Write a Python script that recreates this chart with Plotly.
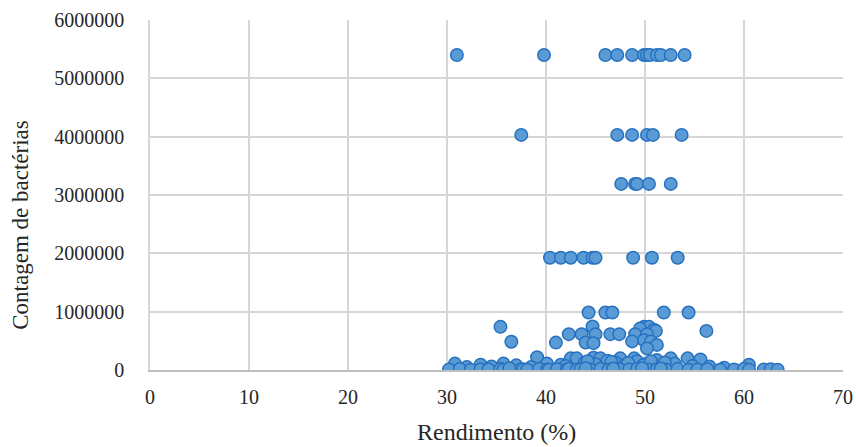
import plotly.graph_objects as go

# Data
# Rendimento (%) -> x ; Contagem de bactérias -> y
rend_top = [31.0, 39.8, 46.0, 47.2, 48.7, 49.9, 50.2, 50.5, 51.2, 51.6, 52.6, 54.0]
cont_top = [5400000] * 12

rend_4m = [37.5, 47.2, 48.7, 50.2, 50.8, 53.7]
cont_4m = [4030000] * 6

rend_3m = [47.6, 49.0, 49.2, 50.4, 52.6]
cont_3m = [3190000] * 5

rend_2m = [40.4, 41.5, 42.5, 43.8, 44.7, 45.0, 48.8, 50.7, 53.3]
cont_2m = [1925000] * 9

rend_mid = [44.3, 46.0, 46.7, 51.9, 54.4,
            35.4, 44.7, 49.9, 50.4, 56.2, 49.5, 50.9, 51.1,
            42.3, 43.6, 45.0, 46.5, 47.4, 49.0, 50.2,
            36.5, 41.0, 44.0, 44.8, 48.7, 49.9, 50.6, 51.2, 50.2]
cont_mid = [985000, 985000, 985000, 985000, 985000,
            740000, 745000, 740000, 740000, 670000, 710000, 690000, 670000,
            615000, 615000, 615000, 615000, 615000, 615000, 615000,
            485000, 470000, 470000, 460000, 490000, 510000, 490000, 430000, 370000]

rend_low = [30.8, 33.4, 35.7, 39.1, 40.1, 42.5, 43.1, 44.8, 45.5, 46.2, 47.5, 48.9,
            49.2, 51.2, 52.6, 54.3, 55.6, 37.0, 41.5, 43.9, 47.0, 50.0, 53.0, 56.5,
            32.0, 34.5, 38.5, 42.0, 45.0, 48.0, 49.8, 51.8, 54.8, 58.0, 60.5,
            44.2, 46.6, 48.3, 50.6, 52.0]
cont_low = [110000, 90000, 110000, 220000, 110000, 200000, 200000, 210000, 200000, 160000, 200000, 200000,
            150000, 170000, 200000, 200000, 180000, 80000, 90000, 120000, 130000, 100000, 110000, 60000,
            50000, 60000, 50000, 70000, 100000, 90000, 80000, 60000, 70000, 40000, 90000,
            150000, 140000, 120000, 150000, 130000]

rend_base = [30.2, 31.3, 32.4, 33.4, 34.2, 35.4, 35.7, 37.4, 37.7, 38.1, 39.3, 40.1,
             40.3, 41.1, 42.1, 42.3, 43.1, 43.5, 44.5, 45.5, 46.3, 47.4, 48.4, 49.2,
             50.4, 51.2, 52.1, 53.3, 54.4, 55.3, 56.3, 57.6, 59.0, 60.0, 60.5, 62.0,
             62.7, 63.4, 44.0, 46.8, 49.7, 51.6, 36.3]
cont_base = [10000, 20000, 5000, 15000, 10000, 20000, 5000, 10000, 15000, 5000, 20000, 10000,
             5000, 15000, 10000, 20000, 5000, 15000, 10000, 20000, 5000, 15000, 10000, 20000,
             5000, 15000, 10000, 20000, 5000, 10000, 15000, 5000, 10000, 20000, 5000, 10000,
             15000, 5000, 30000, 25000, 30000, 25000, 30000]

rendimento = rend_top + rend_4m + rend_3m + rend_2m + rend_mid + rend_low + rend_base
contagem = cont_top + cont_4m + cont_3m + cont_2m + cont_mid + cont_low + cont_base

x_ticks = [0, 10, 20, 30, 40, 50, 60, 70]
y_ticks = [0, 1000000, 2000000, 3000000, 4000000, 5000000, 6000000]

FONT = "Liberation Serif"

fig = go.Figure()
fig.add_trace(go.Scatter(
    x=rendimento, y=contagem, mode="markers",
    marker=dict(size=12.5, color="#5B9BD5", line=dict(color="#2672C0", width=1.5)),
    showlegend=False, hoverinfo="x+y",
))

fig.update_layout(
    width=856, height=447,
    margin=dict(l=150, r=13, t=20, b=77, autoexpand=False),
    paper_bgcolor="white", plot_bgcolor="white",
    font=dict(family=FONT, color="#262626", size=20),
    xaxis=dict(
        range=[0, 70], tickvals=x_ticks, ticktext=[str(v) for v in x_ticks],
        showgrid=True, gridcolor="#D6D6D6", gridwidth=1.5,
        showline=True, linecolor="#BFBFBF", linewidth=1.6,
        zeroline=False, ticks="", ticklabelstandoff=8, automargin=False,
        tickfont=dict(family=FONT, size=20, color="#262626"),
        fixedrange=True,
    ),
    yaxis=dict(
        range=[0, 6000000], tickvals=y_ticks, ticktext=[str(v) for v in y_ticks],
        showgrid=True, gridcolor="#D6D6D6", gridwidth=1.5,
        showline=True, linecolor="#D6D6D6", linewidth=1.5,
        zeroline=False, ticks="", ticklabelstandoff=20, automargin=False,
        tickfont=dict(family=FONT, size=20, color="#262626"),
        fixedrange=True,
    ),
    annotations=[
        dict(text="Rendimento (%)", xref="paper", yref="paper", x=0.5, y=0,
             yshift=-62, xanchor="center", yanchor="middle", showarrow=False,
             font=dict(family=FONT, size=24, color="#262626")),
        dict(text="Contagem de bactérias", xref="paper", yref="paper", x=0, y=0.415,
             xshift=-129, xanchor="center", yanchor="middle", showarrow=False,
             textangle=-90, font=dict(family=FONT, size=23, color="#262626")),
    ],
)

fig.write_html("out.html")
